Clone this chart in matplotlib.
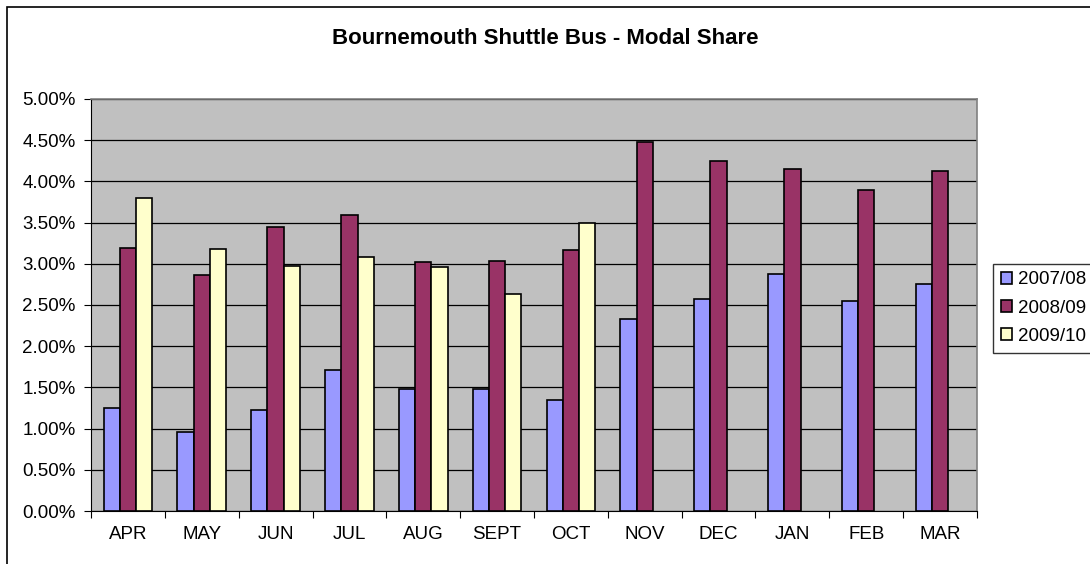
import numpy as np
import matplotlib.pyplot as plt
from matplotlib.patches import Rectangle
from matplotlib.ticker import FuncFormatter

plt.rcParams['font.family'] = ['Liberation Sans', 'DejaVu Sans']

months = ["APR", "MAY", "JUN", "JUL", "AUG", "SEPT", "OCT", "NOV", "DEC", "JAN", "FEB", "MAR"]
s0708 = [1.25, 0.96, 1.23, 1.71, 1.48, 1.48, 1.35, 2.33, 2.57, 2.88, 2.55, 2.75]
s0809 = [3.19, 2.86, 3.45, 3.59, 3.02, 3.04, 3.17, 4.48, 4.25, 4.15, 3.89, 4.13]
s0910 = [3.80, 3.18, 2.97, 3.08, 2.96, 2.63, 3.50]
labels = ["2007/08", "2008/09", "2009/10"]
colors = ["#9999FF", "#993366", "#FFFFCC"]

fig = plt.figure(figsize=(10.9, 5.64), dpi=100)
# outer chart border (only top/left visible in the image)
fig.patches.append(Rectangle((7/1090, -0.1), 1.2, 1 - 7/564 + 0.1, transform=fig.transFigure,
                             fill=False, edgecolor="black", linewidth=1.2))

ax = fig.add_axes([91/1090, 1 - 511/564, (977-91)/1090, (511-99)/564])
ax.set_facecolor("#C0C0C0")

x = np.arange(len(months))
w = 0.22
ax.bar(x - w, s0708, w, color=colors[0], edgecolor="black", linewidth=1.2, label=labels[0], zorder=3)
ax.bar(x, s0809, w, color=colors[1], edgecolor="black", linewidth=1.2, label=labels[1], zorder=3)
ax.bar(x[:len(s0910)] + w, s0910, w, color=colors[2], edgecolor="black", linewidth=1.2, label=labels[2], zorder=3)

ax.set_xlim(-0.5, len(months) - 0.5)
ax.set_ylim(0, 5)
ax.set_yticks(np.arange(0, 5.01, 0.5))
ax.yaxis.set_major_formatter(FuncFormatter(lambda v, p: f"{v:.2f}%"))
ax.yaxis.grid(True, color="black", linewidth=0.9, zorder=1)
ax.set_axisbelow(True)

ax.set_xticks(np.arange(-0.5, len(months), 1))
ax.set_xticklabels([])
ax.set_xticks(x, minor=True)
ax.set_xticklabels(months, minor=True)
ax.tick_params(axis="x", which="minor", length=0, pad=11, labelsize=13.5)
ax.tick_params(axis="x", which="major", length=5, direction="out", color="black")
ax.tick_params(axis="y", length=5, direction="out", labelsize=13.5, pad=6)

for side in ["top", "right"]:
    ax.spines[side].set_color("#808080")
    ax.spines[side].set_linewidth(1.2)
ax.spines["left"].set_color("black")
ax.spines["bottom"].set_color("black")

fig.text(0.5, 1 - 38/564, "Bournemouth Shuttle Bus - Modal Share", ha="center", va="center",
         fontsize=16, fontweight="bold")

ax.legend(loc="upper left", bbox_to_anchor=(993/1090, 1 - 264/564), bbox_transform=fig.transFigure,
          frameon=True, fancybox=False, edgecolor="black", fontsize=13.5, handlelength=0.62,
          handleheight=0.62, handletextpad=0.3, borderpad=0.4, labelspacing=0.6, borderaxespad=0)

fig.savefig("out.png", dpi=100)
